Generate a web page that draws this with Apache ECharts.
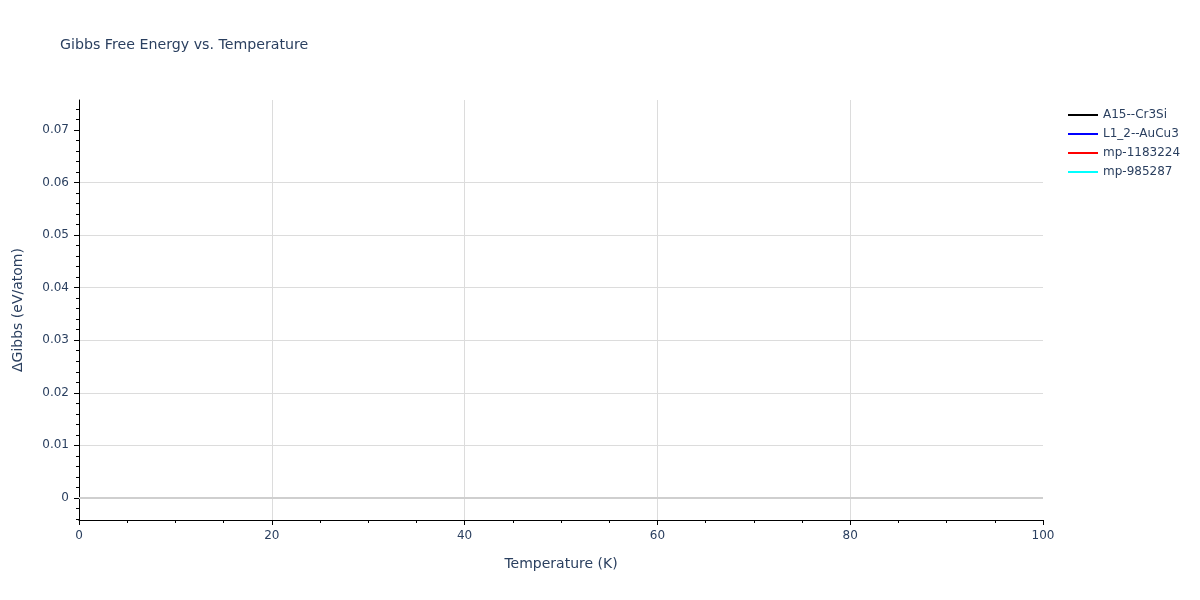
<!DOCTYPE html>
<html>
<head>
<meta charset="utf-8">
<script src="https://cdn.jsdelivr.net/npm/echarts@6/dist/echarts.min.js"></script>
<style>
  html, body { margin: 0; padding: 0; background: #fff; }
  #chart { width: 1200px; height: 600px; }
</style>
</head>
<body>
<div id="chart"></div>
<script>
// series names and their colours (from the legend)
const seriesNames = ['A15--Cr3Si', 'L1_2--AuCu3', 'mp-1183224', 'mp-985287'];
const seriesColors = ['#000000', '#0000ff', '#ff0000', '#00ffff'];

// no curves are visible inside the plotted range, so every series is empty
const temperatures = [];
const gibbsA15 = [];
const gibbsL12 = [];
const gibbsMp1183224 = [];
const gibbsMp985287 = [];
const seriesValues = [gibbsA15, gibbsL12, gibbsMp1183224, gibbsMp985287];

// axis ranges and tick values
const xRange = [0, 100];
const yRange = [-0.0042, 0.0757];
const yTickValues = [0, 0.01, 0.02, 0.03, 0.04, 0.05, 0.06, 0.07];

const textColor = '#2a3f5f';
const fontName = '"DejaVu Sans", verdana, arial, sans-serif';

let chart = echarts.init(document.getElementById('chart'));

let series = seriesNames.map((name, i) => ({
    name: name,
    type: 'line',
    showSymbol: false,
    data: temperatures.map((t, j) => [t, seriesValues[i][j]]),
    lineStyle: { width: 2, color: seriesColors[i] },
    itemStyle: { color: seriesColors[i] }
}));

// plotly style zero line
series[0].markLine = {
    silent: true,
    symbol: 'none',
    label: { show: false },
    lineStyle: { color: '#cfcfcf', width: 2, type: 'solid' },
    data: [{ yAxis: 0 }]
};

let options = {
    animation: false,
    title: {
        text: 'Gibbs Free Energy vs. Temperature',
        left: 60,
        top: 38,
        padding: 0,
        textStyle: { fontFamily: fontName, fontSize: 14.2, fontWeight: 'normal', color: textColor }
    },
    legend: {
        orient: 'vertical',
        left: 1068,
        top: 108,
        itemWidth: 30,
        itemHeight: 2,
        itemGap: 5,
        icon: 'rect',
        padding: 0,
        textStyle: { fontFamily: fontName, fontSize: 12, color: textColor, lineHeight: 14 },
        data: seriesNames
    },
    grid: { left: 79, right: 157, top: 100, bottom: 80, containLabel: false },
    xAxis: {
        type: 'value',
        min: xRange[0],
        max: xRange[1],
        interval: 20,
        name: 'Temperature (K)',
        nameLocation: 'middle',
        nameGap: 37,
        nameTextStyle: { fontFamily: fontName, fontSize: 14, color: textColor },
        axisLine: { show: true, onZero: false, lineStyle: { color: '#000', width: 1 } },
        axisTick: { show: true, length: 5, lineStyle: { color: '#000' } },
        minorTick: { show: true, splitNumber: 4, length: 3, lineStyle: { color: '#000' } },
        axisLabel: { fontFamily: fontName, fontSize: 12, color: textColor, margin: 10 },
        splitLine: { show: true, showMinLine: false, showMaxLine: false, lineStyle: { color: '#dcdcdc', width: 1 } }
    },
    yAxis: {
        type: 'value',
        min: yRange[0],
        max: yRange[1],
        splitNumber: 8,
        name: 'ΔGibbs (eV/atom)',
        nameLocation: 'middle',
        nameGap: 54,
        nameTextStyle: { fontFamily: fontName, fontSize: 14, color: textColor },
        axisLine: { show: true, onZero: false, lineStyle: { color: '#000', width: 1 } },
        axisTick: { show: true, length: 5, customValues: yTickValues, lineStyle: { color: '#000' } },
        minorTick: { show: true, splitNumber: 5, length: 3, lineStyle: { color: '#000' } },
        axisLabel: {
            fontFamily: fontName, fontSize: 12, color: textColor, margin: 10,
            customValues: yTickValues
        },
        splitLine: { show: true, showMinLine: false, showMaxLine: false, lineStyle: { color: '#dcdcdc', width: 1 } }
    },
    series: series
};

chart.setOption(options);
</script>
</body>
</html>
